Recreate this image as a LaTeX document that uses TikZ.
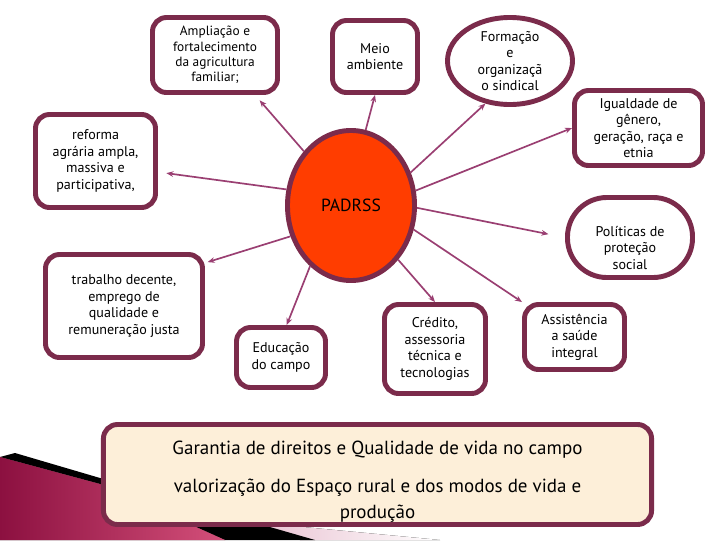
\documentclass[tikz,border=0pt]{standalone}
\usepackage{fontspec}
\setmainfont{PT Sans}
\usetikzlibrary{arrows.meta,shapes.geometric}
\definecolor{bordo}{HTML}{7B2B4B}
\definecolor{linha}{HTML}{9A3F72}
\definecolor{laranja}{HTML}{FF3D00}
\definecolor{creme}{HTML}{FDEFD9}
\definecolor{vinho}{HTML}{8C1040}
\definecolor{rosa}{HTML}{D4507A}
\definecolor{rosaclaro}{HTML}{E6B9CB}
\begin{document}
\begin{tikzpicture}[x=0.025cm,y=-0.025cm,
  caixa/.style={draw=bordo,line width=3.5pt,fill=white,rounded corners=10pt,align=center,
    inner sep=1pt,font=\fontsize{10}{11.7}\selectfont},
  oval/.style={caixa,ellipse,inner sep=-8pt},
  liga/.style={draw=linha,line width=1.2pt,-{Stealth[length=5pt,width=4pt]}}]
 \useasboundingbox (0,0) rectangle (720,540);
 % fundo
 \fill[left color=rosaclaro,right color=white] (230,520)--(440,540)--(300,540)--cycle;
 \fill[black] (15,453)--(100,478)--(315,540)--(225,540)--(100,484)--(0,457)--cycle;
 \fill[left color=vinho,right color=rosa] (0,457)--(100,484)--(225,540)--(0,540)--cycle;
 % centro
 \node[oval,fill=laranja,minimum width=3.175cm,minimum height=3.75cm,font=\fontsize{12.5}{14}\selectfont]
   (padrss) at (351,205.5) {PADRSS};
 % caixas
 \node[caixa,minimum width=3.125cm,minimum height=1.875cm,font=\fontsize{9.5}{11}\selectfont]
   (ampl) at (215,55) {Ampliação e\\fortalecimento\\da agricultura\\familiar;};
 \node[caixa,minimum width=2.125cm,minimum height=1.8cm] (meio) at (375,56.5) {Meio\\ambiente};
 \node[oval,minimum width=3.125cm,minimum height=2.175cm] (form) at (510,61)
   {Formação\\e\\organizaçã\\o sindical};
 \node[caixa,minimum width=3.2cm,minimum height=1.875cm] (igual) at (638.5,128)
   {Igualdade de\\gênero,\\geração, raça e\\etnia};
 \node[caixa,minimum width=3cm,minimum height=2.325cm] (reforma) at (95.5,161)
   {reforma\\agrária ampla,\\massiva e\\participativa,};
 \node[caixa,rounded corners=28pt,minimum width=3.125cm,minimum height=2cm] (pol) at (630,237.5)
   {\rule{0pt}{22pt}Políticas de\\proteção\\social};
 \node[caixa,minimum width=3.925cm,minimum height=2.575cm] (trab) at (124,306)
   {trabalho decente,\\emprego de\\qualidade e\\remuneração justa};
 \node[caixa,minimum width=2.225cm,minimum height=1.5cm] (educ) at (281,357.5) {Educação\\do campo};
 \node[caixa,minimum width=2.525cm,minimum height=2.225cm] (cred) at (435,349)
   {Crédito,\\assessoria\\técnica e\\tecnologias};
 \node[caixa,minimum width=2.5cm,minimum height=1.625cm] (assist) at (574.5,337)
   {Assistência\\a saúde\\integral};
 \node[caixa,fill=creme,minimum width=13.7cm,minimum height=2.5cm,font=\fontsize{13.5}{19}\selectfont]
   (garantia) at (377.5,474.5)
   {\rule{0pt}{20pt}Garantia de direitos e Qualidade de vida no campo\\[8pt]valorização do Espaço rural e dos modos de vida e\\produção};
 % ligacoes
 \draw[liga,shorten >=5pt] (padrss.131) -- (ampl.-45);
 \draw[liga] (padrss.79) -- (meio.south);
 \draw[liga] (padrss.29) -- (form.240);
 \draw[liga] (padrss.13) -- (igual.west);
 \draw[liga,shorten >=6pt] (padrss.166) -- (reforma.-10);
 \draw[liga,shorten >=12pt] (padrss.358) -- (pol.west);
 \draw[liga,shorten >=2pt] (padrss.207) -- (trab.28);
 \draw[liga] (padrss.236) -- (educ.80);
 \draw[liga] (padrss.311) -- (cred.north);
 \draw[liga] (padrss.339) -- (assist.north west);
\end{tikzpicture}
\end{document}
